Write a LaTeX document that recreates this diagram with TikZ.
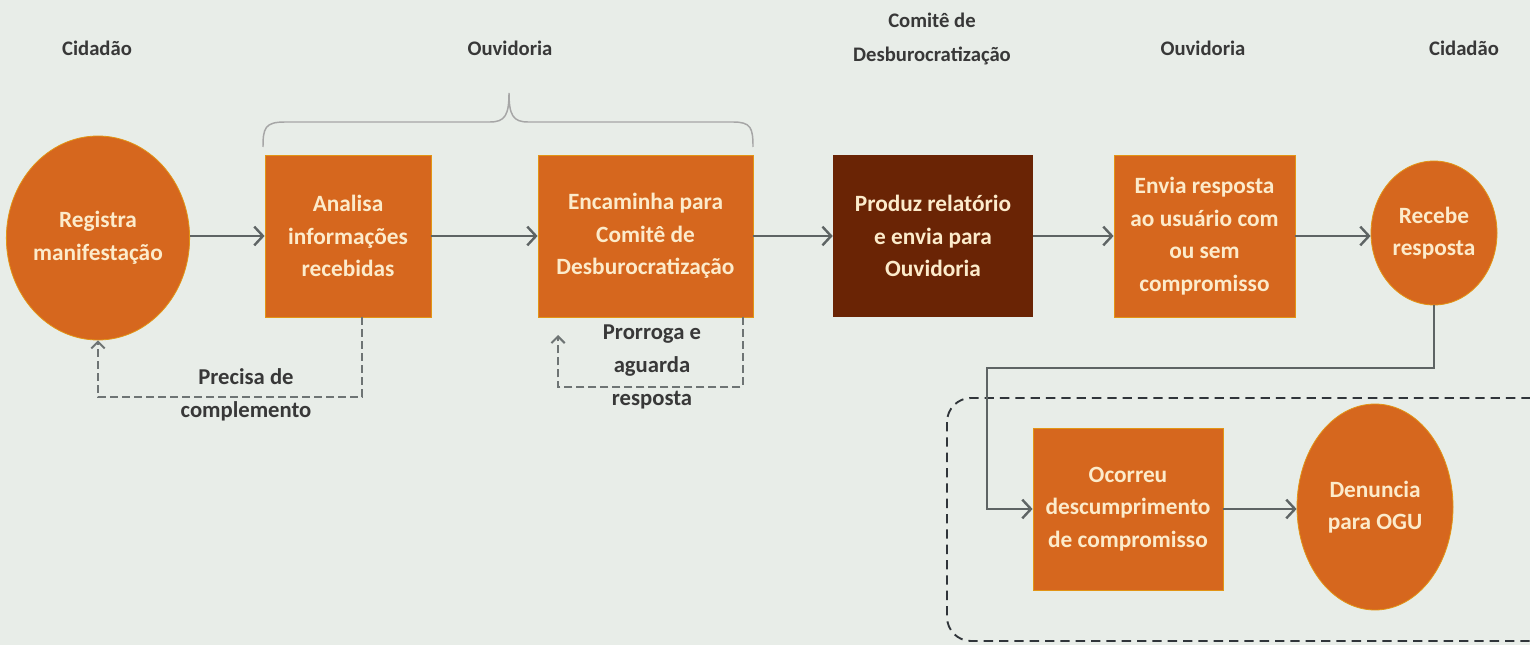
\documentclass[tikz,border=0pt]{standalone}
\usepackage{fontspec}
\setmainfont{Carlito}
\usetikzlibrary{shapes.geometric,arrows.meta}
\definecolor{bg}{HTML}{E8EDE8}
\definecolor{org}{HTML}{D6671E}
\definecolor{dark}{HTML}{6A2405}
\definecolor{cream}{HTML}{FCEBCB}
\definecolor{arr}{HTML}{5E6464}
\definecolor{lbl}{HTML}{383838}
\definecolor{grp}{HTML}{30353A}
\tikzset{
  txt/.style={font=\bfseries\fontsize{17.5}{24.5}\selectfont, align=center, text=cream},
  procbox/.style={txt, rectangle, fill=org, draw=org!70!yellow, line width=0.6pt, inner sep=2pt},
  darkbox/.style={txt, rectangle, fill=dark, inner sep=2pt},
  oval/.style={txt, ellipse, fill=org, draw=org!70!yellow, line width=0.6pt, inner sep=0pt},
  hdr/.style={font=\bfseries\fontsize{15.5}{25}\selectfont, align=center, text=lbl},
  lab/.style={font=\bfseries\fontsize{17}{24.5}\selectfont, align=center, text=lbl},
  flow/.style={draw=arr, line width=2.1pt, -{Straight Barb[length=6.5pt,width=14pt,line width=1.8pt]}},
  back/.style={draw=arr!90!white, line width=1.9pt, dash pattern=on 6pt off 3pt, -{Straight Barb[length=5pt,width=10pt,line width=1.5pt]}},
  group/.style={draw=grp, line width=1.4pt, dash pattern=on 7pt off 4.5pt, rounded corners=18pt},
}
\begin{document}
\begin{tikzpicture}[x=0.75pt,y=-0.75pt]
\fill[bg] (0,0) rectangle (1530,645);
\useasboundingbox (0,0) rectangle (1530,645);

% headers
\node[hdr] (h1) at (97,48) {Cidadão};
\node[hdr] (h2) at (510,48) {Ouvidoria};
\node[hdr] (h3) at (932,39) {Comitê de\\Desburocratização};
\node[hdr] (h4) at (1203,48) {Ouvidoria};
\node[hdr] (h5) at (1464,48) {Cidadão};

% brace
\draw[draw=gray!70, line width=1.1pt]
  (263,147) .. controls (263,128) and (265,122) .. (285,122) -- (490,122)
  .. controls (505,122) and (509,115) .. (509,93)
  .. controls (509,115) and (513,122) .. (528,122) -- (733,122)
  .. controls (751,122) and (753,128) .. (753,147);

% nodes
\node[oval, minimum width=130.5pt, minimum height=153pt] (reg) at (98,238) {Registra\\manifestação};
\node[procbox, minimum width=124.5pt, minimum height=121.5pt] (ana) at (348,236) {Analisa\\informações\\recebidas};
\node[procbox, minimum width=161.25pt, minimum height=121.5pt] (enc) at (645.5,236) {Encaminha para\\Comitê de\\Desburocratização};
\node[darkbox, minimum width=150pt, minimum height=121.5pt] (pro) at (933,236) {Produz relatório\\e envia para\\Ouvidoria};
\node[procbox, minimum width=135.75pt, minimum height=121.5pt] (env) at (1204.5,236) {Envia resposta\\ao usuário com\\ou sem\\compromisso};
\node[oval, minimum width=94.5pt, minimum height=108pt] (rec) at (1434,233) {Recebe\\resposta};
\node[procbox, minimum width=142.5pt, minimum height=121.5pt] (oco) at (1128,509) {Ocorreu\\descumprimento\\de compromisso};
\node[oval, minimum width=117pt, minimum height=154.5pt] (den) at (1375,507) {Denuncia\\para OGU};

% group box
\draw[group] (947,398) rectangle (1560,641);

% main flow
\draw[flow] (reg.east |- ana.west) -- (ana.west);
\draw[flow] (ana.east) -- (enc.west);
\draw[flow] (enc.east) -- (pro.west);
\draw[flow] (pro.east) -- (env.west);
\draw[flow] (env.east) -- (env.east -| rec.west);
\coordinate (k1) at (987,368);
\draw[flow] (rec.south) |- (k1) |- (oco.west);
\draw[flow] (oco.east) -- (oco.east -| den.west);

% feedback loops
\coordinate (f1) at (98,397);
\draw[back] ([xshift=10.5pt]ana.south) |- (f1) -- (reg.south);
\coordinate (f2) at (558,387);
\coordinate (f2e) at (558,335);
\draw[back] ([xshift=73pt]enc.south) |- (f2) -- (f2e);

% labels
\node[lab] (l1) at (246,395) {Precisa de\\complemento};
\node[lab] (l2) at (652,367) {Prorroga e\\aguarda\\resposta};
\end{tikzpicture}
\end{document}
